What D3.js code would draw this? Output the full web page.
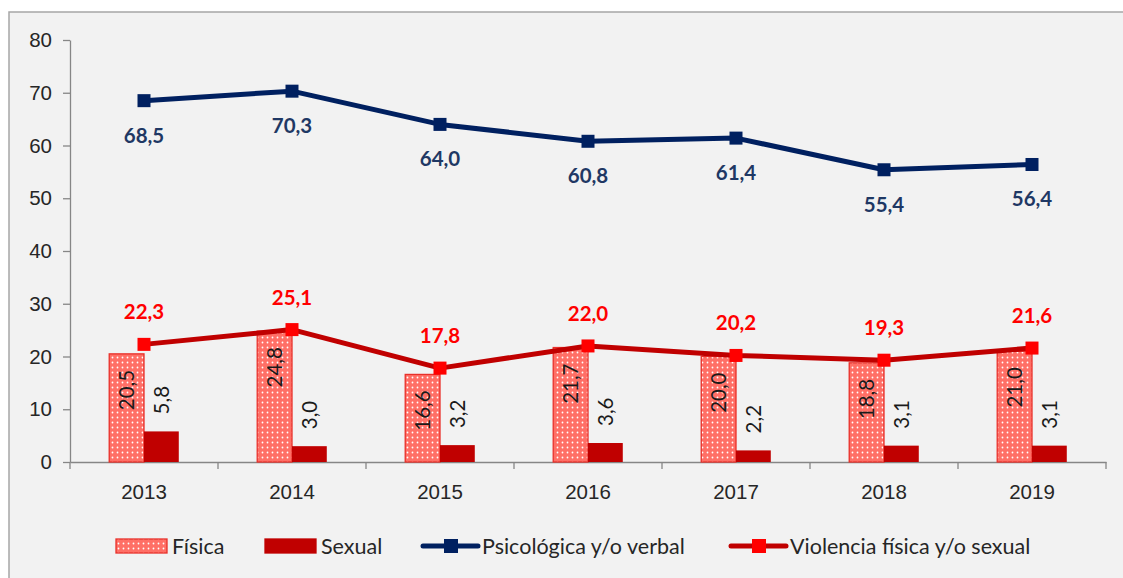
<!DOCTYPE html>
<html>
<head>
<meta charset="utf-8">
<script src="https://cdn.jsdelivr.net/npm/d3@7"></script>
<style>
  html, body { margin: 0; padding: 0; background: #ffffff; }
  svg { display: block; font-family: Lato, "Noto Sans", sans-serif; }
</style>
</head>
<body>
<div id="chart"></div>
<script>
// values
const years = ["2013", "2014", "2015", "2016", "2017", "2018", "2019"];
const fisica = [20.5, 24.8, 16.6, 21.7, 20.0, 18.8, 21.0];
const sexual = [5.8, 3.0, 3.2, 3.6, 2.2, 3.1, 3.1];
const psicologica = [68.5, 70.3, 64.0, 60.8, 61.4, 55.4, 56.4];
const violencia = [22.3, 25.1, 17.8, 22.0, 20.2, 19.3, 21.6];
const yTicks = [0, 10, 20, 30, 40, 50, 60, 70, 80];
const legendNames = ["Física", "Sexual", "Psicológica y/o verbal", "Violencia física y/o sexual"];

const width = 1123,
    height = 578,
    margin = ({ top: 40, right: 17, bottom: 116, left: 70 });

const navy = "#002060", darkRed = "#c00000", red = "#ff0000";
const fmt = d => d3.format(".1f")(d).replace(".", ",");

const svg = d3.select("#chart")
    .append("svg")
    .attr("width", width)
    .attr("height", height);

// pattern for the dotted "Física" bars
const defs = svg.append("defs");
const pat = defs.append("pattern")
    .attr("id", "dots")
    .attr("patternUnits", "userSpaceOnUse")
    .attr("width", 5)
    .attr("height", 5);
pat.append("rect").attr("width", 5).attr("height", 5).attr("fill", "#ff6f66");
pat.append("circle").attr("cx", 2.5).attr("cy", 2.5).attr("r", 0.9).attr("fill", "#ffffff");

// chart area frame
svg.append("rect")
    .attr("x", 9)
    .attr("y", 12)
    .attr("width", width)
    .attr("height", height)
    .attr("fill", "#f2f2f2")
    .attr("stroke", "#a6a6a6")
    .attr("stroke-width", 1.5);

let x = d3.scaleBand()
    .domain(years)
    .range([margin.left, width - margin.right])
    .padding(0);

let y = d3.scaleLinear()
    .domain([0, 80])
    .range([height - margin.bottom, margin.top]);

const barW = x.bandwidth() * 0.235;
let xs = d3.scaleBand()
    .domain(["Física", "Sexual"])
    .range([x.bandwidth() / 2 - barW, x.bandwidth() / 2 + barW]);

// axes
const yAxis = svg.append("g")
    .attr("class", "y-axis")
    .attr("transform", `translate(${margin.left},0)`)
    .call(d3.axisLeft(y).tickValues(yTicks).tickSize(7).tickSizeOuter(0).tickPadding(11));

const xAxis = svg.append("g")
    .attr("class", "x-axis")
    .attr("transform", `translate(0,${y(0)})`)
    .call(d3.axisBottom(x).tickSize(0).tickPadding(22));

// Excel-style tick marks between categories
xAxis.selectAll(".sep")
    .data(years.concat(["end"]))
    .join("line")
    .attr("class", "sep")
    .attr("x1", (d, i) => margin.left + i * x.step())
    .attr("x2", (d, i) => margin.left + i * x.step())
    .attr("y1", 0)
    .attr("y2", 7);

svg.selectAll(".y-axis path, .y-axis line, .x-axis path, .x-axis line")
    .attr("stroke", "#868686")
    .attr("stroke-width", 1.3);
svg.selectAll(".y-axis text, .x-axis text")
    .attr("fill", "#262626")
    .style("font-size", "20.5px");

// bars
const rows = years.map((yr, i) => ({ year: yr, fisica: fisica[i], sexual: sexual[i], psico: psicologica[i], viol: violencia[i] }));

const bars = svg.append("g").attr("class", "bars");
bars.selectAll(".fis")
    .data(rows)
    .join("rect")
    .attr("class", "fis")
    .attr("x", d => x(d.year) + xs("Física"))
    .attr("y", d => y(d.fisica))
    .attr("width", xs.bandwidth())
    .attr("height", d => y(0) - y(d.fisica))
    .attr("fill", "url(#dots)")
    .attr("stroke", "#e8302a")
    .attr("stroke-width", 1.3);

bars.selectAll(".sex")
    .data(rows)
    .join("rect")
    .attr("class", "sex")
    .attr("x", d => x(d.year) + xs("Sexual"))
    .attr("y", d => y(d.sexual))
    .attr("width", xs.bandwidth())
    .attr("height", d => y(0) - y(d.sexual))
    .attr("fill", darkRed);

// rotated bar labels
bars.selectAll(".fis-label")
    .data(rows)
    .join("text")
    .attr("class", "fis-label")
    .attr("transform", d => `translate(${x(d.year) + xs("Física") + xs.bandwidth() / 2},${y(d.fisica) + 16}) rotate(-90)`)
    .attr("text-anchor", "end")
    .attr("dy", "0.35em")
    .attr("fill", "#1a1a1a")
    .style("font-size", "20.5px")
    .text(d => fmt(d.fisica));

bars.selectAll(".sex-label")
    .data(rows)
    .join("text")
    .attr("class", "sex-label")
    .attr("transform", d => `translate(${x(d.year) + xs("Sexual") + xs.bandwidth() / 2},${y(d.sexual) - 17}) rotate(-90)`)
    .attr("text-anchor", "start")
    .attr("dy", "0.35em")
    .attr("fill", "#1a1a1a")
    .style("font-size", "20.5px")
    .text(d => fmt(d.sexual));

// lines
const cx = d => x(d.year) + x.bandwidth() / 2;

function drawLine(key, lineColor, markColor, cls) {
    const g = svg.append("g").attr("class", cls);
    g.append("path")
        .datum(rows)
        .attr("fill", "none")
        .attr("stroke", lineColor)
        .attr("stroke-width", 5)
        .attr("stroke-linejoin", "round")
        .attr("d", d3.line().x(cx).y(d => y(d[key])));
    g.selectAll("rect")
        .data(rows)
        .join("rect")
        .attr("x", d => cx(d) - 6.5)
        .attr("y", d => y(d[key]) - 6.5)
        .attr("width", 13)
        .attr("height", 13)
        .attr("fill", markColor);
    return g;
}

drawLine("psico", navy, navy, "psico")
    .selectAll("text")
    .data(rows)
    .join("text")
    .attr("x", cx)
    .attr("y", d => y(d.psico) + 42)
    .attr("text-anchor", "middle")
    .attr("fill", "#1f3864")
    .style("font-size", "20.5px")
    .style("font-weight", "bold")
    .text(d => fmt(d.psico));

drawLine("viol", darkRed, red, "viol")
    .selectAll("text")
    .data(rows)
    .join("text")
    .attr("x", cx)
    .attr("y", d => y(d.viol) - 25)
    .attr("text-anchor", "middle")
    .attr("fill", red)
    .style("font-size", "20.5px")
    .style("font-weight", "bold")
    .text(d => fmt(d.viol));

// legend
const legendX = [116, 265, 423, 731];
const legend = svg.append("g")
    .attr("class", "legend")
    .attr("transform", "translate(0,546)");

const items = legend.selectAll("g")
    .data(legendNames)
    .join("g")
    .attr("transform", (d, i) => `translate(${legendX[i]},0)`);

items.filter((d, i) => i < 2)
    .append("rect")
    .attr("x", 0)
    .attr("y", -7)
    .attr("width", 51)
    .attr("height", 14)
    .attr("fill", (d, i) => i === 0 ? "url(#dots)" : darkRed)
    .attr("stroke", (d, i) => i === 0 ? "#e8302a" : darkRed)
    .attr("stroke-width", 1.3);

items.filter((d, i) => i >= 2)
    .append("line")
    .attr("x1", 0)
    .attr("x2", 55)
    .attr("stroke", (d, i) => i === 0 ? navy : darkRed)
    .attr("stroke-width", 5)
    .attr("stroke-linecap", "round");

items.filter((d, i) => i >= 2)
    .append("rect")
    .attr("x", 21)
    .attr("y", -7)
    .attr("width", 14)
    .attr("height", 14)
    .attr("fill", (d, i) => i === 0 ? navy : red);

items.append("text")
    .attr("x", (d, i) => i < 2 ? 56 : 59)
    .attr("dy", "0.35em")
    .attr("fill", "#262626")
    .style("font-size", "21.5px")
    .text(d => d);
</script>
</body>
</html>
